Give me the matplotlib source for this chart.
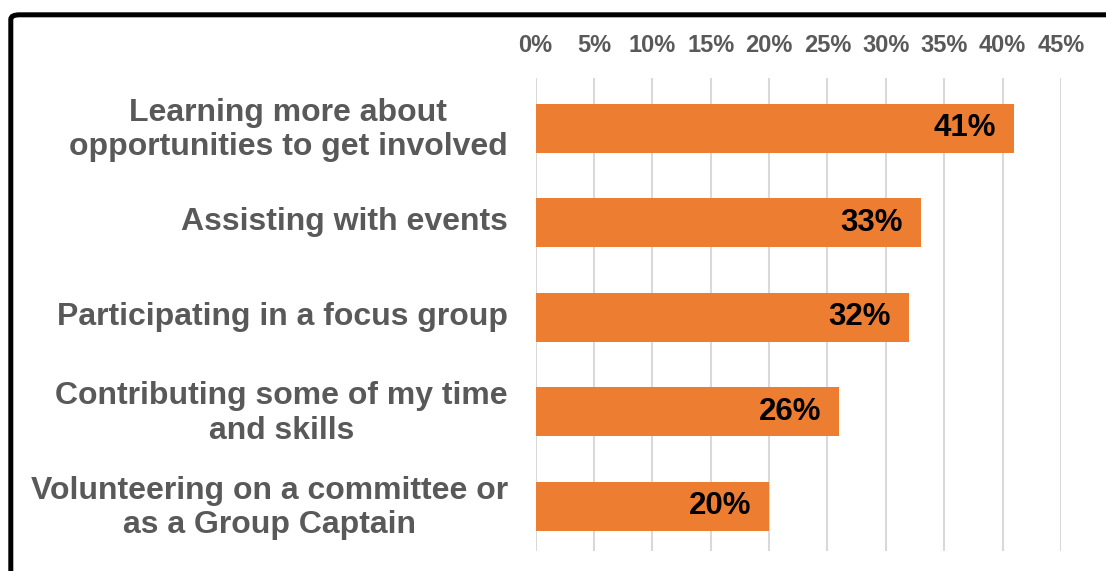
import matplotlib
matplotlib.use("Agg")
import matplotlib.pyplot as plt
from matplotlib.patches import FancyBboxPatch
from matplotlib.ticker import FixedLocator, FuncFormatter
from matplotlib.transforms import ScaledTranslation

plt.rcParams['font.family'] = ['Liberation Sans', 'DejaVu Sans']

categories = [
    "Learning more about\nopportunities to get involved",
    "Assisting with events",
    "Participating in a focus group",
    "Contributing some of my time\nand skills",
    "Volunteering on a committee or\nas a Group Captain",
]
values = [41, 33, 32, 26, 20]
value_labels = ["41%", "33%", "32%", "26%", "20%"]
ticks = [0, 5, 10, 15, 20, 25, 30, 35, 40, 45]

BAR = "#ED7D31"
TEXT = "#595959"
GRID = "#D9D9D9"

fig = plt.figure(figsize=(11.06, 5.71), dpi=100)
ax = fig.add_axes([0.4842, 0.0356, 0.4751, 0.8273])

pos = list(range(len(categories)))
ax.barh(pos, values, height=0.52, color=BAR, zorder=3)
ax.set_ylim(4.47, -0.528)
ax.set_xlim(0, 45)

ax.xaxis.set_major_locator(FixedLocator(ticks))
ax.xaxis.set_major_formatter(FuncFormatter(lambda v, p: f"{int(round(v))}%"))
ax.xaxis.tick_top()
ax.tick_params(axis='x', length=0, pad=15, labelsize=17, labelcolor=TEXT)
for t in ax.get_xticklabels():
    t.set_fontweight('bold')

ax.set_yticks(pos)
ax.set_yticklabels(categories, fontsize=23, fontweight='bold', color=TEXT,
                   multialignment='center', linespacing=1.2)
ax.tick_params(axis='y', length=0, pad=20)
lift = ScaledTranslation(0, 4 / 100, fig.dpi_scale_trans)
for t in ax.get_yticklabels():
    t.set_transform(t.get_transform() + lift)

ax.grid(axis='x', color=GRID, linewidth=1.5, zorder=0)
ax.grid(axis='y', visible=False)
for s in ax.spines.values():
    s.set_visible(False)

for p, v, lab in zip(pos, values, value_labels):
    ax.annotate(lab, xy=(v, p), xytext=(-13, 0), textcoords='offset points',
                ha='right', va='center', fontsize=22.5, fontweight='bold',
                color='black', zorder=4)

# outer chart frame, partially running off the right and bottom edges
frame = FancyBboxPatch((10.8 / 1106, -0.2), 1.3, 1.2 - 14.8 / 571,
                       boxstyle="round,pad=0,rounding_size=0.008",
                       transform=fig.transFigure, fill=False,
                       edgecolor='black', linewidth=3.6, clip_on=False)
fig.patches.append(frame)

fig.savefig("out.png", dpi=100)
